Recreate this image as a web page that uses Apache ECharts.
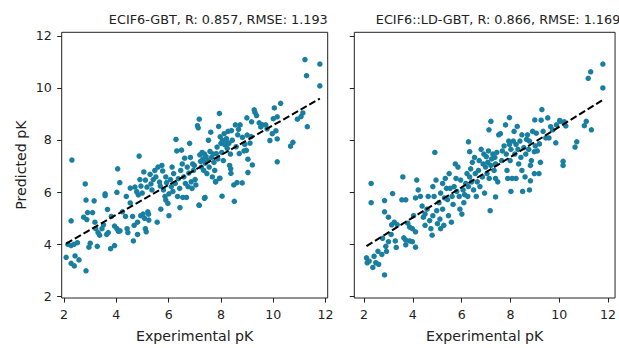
<!DOCTYPE html>
<html><head><meta charset="utf-8">
<script src="https://cdn.jsdelivr.net/npm/echarts@6/dist/echarts.min.js"></script>
<style>html,body{margin:0;padding:0;background:#fff}#c{width:619px;height:348px}</style>
</head><body><div id="c"></div>
<script>
// ---- data ----
const titles = ['ECIF6-GBT, R: 0.857, RMSE: 1.193', 'ECIF6::LD-GBT, R: 0.866, RMSE: 1.169'];
const xAxisName = 'Experimental pK';
const yAxisName = 'Predicted pK';
const xTicks = [2, 4, 6, 8, 10, 12];
const yTicks = [2, 4, 6, 8, 10, 12];

const leftPoints = [
[2.08,3.49],[2.15,3.99],[2.27,3.94],[2.38,3.99],[2.51,4.05],[2.27,3.26],[2.39,3.16],[2.42,3.54],[2.57,3.39],[2.84,2.97],
[2.27,4.89],[2.3,7.23],[2.81,6.31],[2.75,5.03],[2.87,4.94],[2.84,5.69],[2.9,5.21],[2.95,3.88],[3.0,4.03],[3.15,5.66],
[3.09,5.21],[3.18,4.84],[3.21,4.59],[3.27,3.91],[3.36,4.34],[3.3,4.44],[3.51,4.74],[3.57,5.86],[3.57,5.93],[3.66,5.33],
[3.63,4.37],[3.69,4.44],[3.45,4.59],[3.78,3.82],[3.93,3.94],[3.81,5.06],[3.93,4.69],[4.05,6.89],[4.02,5.99],[4.13,6.36],
[4.02,4.59],[4.08,4.49],[4.14,4.51],[4.23,5.24],[4.35,5.06],[4.38,5.83],[4.41,4.59],[4.44,4.44],[4.53,5.58],[4.62,5.06],
[4.65,4.12],[4.68,4.72],[4.53,6.15],[4.71,6.19],[4.78,6.01],[4.84,5.89],[4.81,4.84],[4.87,7.38],[4.9,6.48],[4.94,6.23],
[4.99,5.96],[5.02,5.15],[4.81,4.37],[4.93,5.09],[5.05,6.77],[5.11,6.46],[5.17,6.19],[5.08,4.99],[5.11,4.59],[5.14,4.47],
[5.2,5.24],[5.23,5.15],[5.24,4.92],[5.29,6.68],[5.32,6.31],[5.36,6.08],[5.41,6.48],[5.47,6.83],[5.51,6.58],[5.56,4.84],
[5.59,6.96],[5.65,6.38],[5.68,6.23],[5.7,5.34],[5.74,7.02],[5.77,6.81],[5.8,6.08],[5.86,5.83],[5.89,6.58],[5.89,5.69],
[5.92,6.36],[5.97,5.56],[6.01,5.93],[6.01,5.09],[6.07,6.48],[6.1,6.21],[6.13,6.96],[6.16,6.02],[6.19,6.71],[6.25,6.33],
[6.28,8.02],[6.31,7.58],[6.34,5.83],[6.37,6.51],[6.42,6.14],[6.43,5.4],[6.46,6.83],[6.49,7.61],[6.52,7.08],[6.54,5.79],
[6.58,6.58],[6.61,7.3],[6.64,6.33],[6.68,5.79],[6.71,6.96],[6.74,6.21],[6.77,6.73],[6.8,7.87],[6.83,7.33],[6.86,6.39],
[6.89,6.14],[6.92,7.08],[6.95,6.83],[6.98,7.02],[7.01,6.48],[7.04,6.27],[7.1,8.55],[7.13,8.47],[7.17,8.8],[7.17,5.49],
[7.19,7.43],[7.22,7.18],[7.25,6.96],[7.28,7.52],[7.31,7.27],[7.34,6.83],[7.37,7.46],[7.37,5.76],[7.4,7.11],[7.43,7.36],
[7.46,6.71],[7.49,7.21],[7.52,7.99],[7.55,6.96],[7.58,7.56],[7.61,8.3],[7.64,7.33],[7.67,6.58],[7.7,7.46],[7.73,7.14],
[7.76,6.83],[7.79,6.39],[7.82,7.48],[7.85,7.73],[7.88,7.27],[7.91,8.52],[7.94,9.02],[7.94,6.52],[7.97,8.12],[8.04,5.84],
[8.0,7.87],[8.03,7.52],[8.06,7.99],[8.09,7.21],[8.12,8.24],[8.15,7.81],[8.18,7.99],[8.21,8.05],[8.24,7.68],[8.27,8.33],
[8.3,7.87],[8.33,7.02],[8.36,7.46],[8.4,8.36],[8.43,7.99],[8.51,5.64],[8.49,6.27],[8.55,8.58],[8.58,7.74],[8.61,6.36],
[8.64,8.2],[8.67,8.41],[8.7,7.48],[8.73,8.58],[8.81,6.35],[8.82,8.1],[8.88,7.58],[8.91,7.83],[8.97,7.6],[9.0,8.19],
[8.99,8.85],[9.11,7.88],[9.17,8.7],[9.2,7.04],[9.03,7.26],[9.03,6.75],[9.15,8.13],[9.27,9.16],[9.3,9.06],[9.36,8.94],
[9.46,8.66],[9.52,8.5],[9.58,8.58],[9.71,8.58],[9.76,8.43],[9.87,7.98],[9.96,8.24],[10.0,8.82],[10.04,9.23],[10.1,8.35],
[10.15,8.04],[10.15,8.89],[10.28,9.41],[10.15,7.16],[10.66,7.76],[10.75,7.91],[10.92,8.8],[11.06,8.9],[11.13,9.04],[11.3,8.51],
[11.21,11.09],[11.78,10.92],[11.27,10.47],[11.78,10.08],[7.16,5.5],[7.39,5.79],[8.38,6.72],[8.37,6.89],[7.8,6.4],[7.96,6.53]
];

const rightPoints = [
[11.79,10.92],[11.29,10.62],[11.19,10.37],[11.79,10.0],[11.32,8.39],[11.11,8.72],[11.03,8.55],[10.72,7.93],[10.65,7.73],[10.16,7.18],
[10.16,7.02],[10.27,8.54],[10.02,8.75],[9.86,7.89],[9.58,8.08],[9.65,8.51],[9.53,8.85],[9.29,9.17],[9.26,8.76],[9.0,8.77],
[9.06,8.26],[9.19,7.85],[9.23,7.14],[8.98,7.55],[8.82,7.02],[8.98,6.71],[9.17,6.71],[8.82,6.43],[8.47,6.83],[8.5,6.02],
[8.02,6.02],[7.96,8.86],[7.2,8.72],[7.12,8.39],[7.39,6.52],[7.39,5.81],[7.17,5.28],[6.28,7.93],[6.33,7.55],[4.9,7.52],
[3.59,6.58],[2.29,6.33],[2.29,5.59],[2.84,5.67],[3.17,5.94],[2.84,5.24],[3.0,5.03],[3.13,4.74],[3.24,4.84],[3.36,4.74],
[3.11,4.37],[3.0,4.09],[2.89,3.91],[2.76,4.22],[3.28,4.12],[3.32,3.87],[3.63,4.24],[3.71,3.97],[3.71,4.15],[3.87,4.12],
[3.98,4.09],[4.11,3.88],[3.55,5.7],[3.71,5.7],[3.79,4.8],[3.87,4.65],[3.98,4.59],[4.11,4.47],[4.03,5.09],[4.11,5.77],
[4.16,6.46],[4.22,6.08],[4.31,5.83],[4.38,5.46],[4.43,5.03],[4.5,5.15],[4.5,4.72],[4.58,5.34],[4.63,5.83],[4.69,4.9],
[4.74,4.59],[4.79,4.34],[4.82,5.09],[4.82,6.21],[4.87,5.83],[4.95,6.46],[4.98,5.28],[5.01,4.78],[5.07,5.59],[5.11,4.96],
[5.14,5.96],[5.14,4.59],[5.22,6.33],[5.22,5.34],[5.27,4.72],[5.3,5.77],[5.33,6.52],[5.38,6.14],[5.42,5.71],[5.46,5.09],
[5.49,6.71],[5.53,6.14],[5.58,4.84],[5.61,5.83],[5.65,5.52],[5.69,6.21],[5.74,7.08],[5.77,6.52],[5.8,6.02],[5.85,6.96],
[5.9,5.83],[5.93,5.34],[5.96,6.46],[6.01,5.15],[6.06,6.08],[6.09,5.59],[6.12,5.9],[6.17,6.33],[6.22,6.71],[6.25,5.83],
[6.28,6.21],[6.33,6.58],[6.37,6.89],[6.41,6.39],[6.44,7.14],[6.49,6.08],[6.53,7.33],[6.56,6.71],[6.6,5.83],[6.64,6.39],
[6.69,6.83],[6.72,7.21],[6.75,6.21],[6.8,7.64],[6.85,6.58],[6.88,7.08],[6.91,7.46],[6.94,5.96],[6.98,6.96],[7.01,7.36],
[7.04,6.71],[7.07,7.14],[7.1,7.58],[7.13,6.52],[7.2,7.02],[7.23,7.27],[7.28,7.46],[7.33,6.83],[7.36,7.33],[7.39,7.08],
[7.44,7.52],[7.48,6.39],[7.52,8.2],[7.59,8.24],[7.64,7.21],[7.67,7.58],[7.74,7.77],[7.8,8.58],[7.83,7.46],[7.86,6.83],
[7.89,6.52],[7.93,7.96],[7.96,7.83],[7.99,7.21],[8.02,7.64],[8.07,6.52],[8.12,7.96],[8.15,8.33],[8.18,7.46],[8.23,7.83],
[8.28,8.52],[8.31,7.64],[8.34,7.08],[8.39,7.96],[8.43,7.33],[8.47,8.2],[8.55,7.71],[8.6,6.58],[8.63,7.46],[8.66,8.02],
[8.7,8.2],[8.75,7.64],[8.78,7.96],[8.86,7.21],[8.91,8.33],[9.02,7.77],[9.1,7.58],[9.34,8.33],[9.45,8.08],[9.73,8.39],
[9.89,8.58],[10.05,8.72],[10.21,8.7],[8.78,6.08],[8.23,6.52],[2.1,3.47],[2.21,3.34],[2.36,3.1],[2.48,3.28],[2.6,3.22],
[2.13,3.28],[2.41,3.53],[2.57,3.72],[2.84,2.81],[2.73,3.6],[2.92,3.72]
];

const leftFit = [[2.08, 4.02], [11.78, 9.59]];
const rightFit = [[2.1, 3.92], [11.79, 9.54]];

// ---- chart ----
const FONT = '"DejaVu Sans", sans-serif';
const INK = '#222';
const DOT = '#187fa1';
const chart = echarts.init(document.getElementById('c'), null, {renderer: 'svg'});

const grids = [
  {left: 61.7, top: 32.3, width: 266, height: 272.4},
  {left: 354.3, top: 32.3, width: 266, height: 272.4}
].map(g => Object.assign({show: true, borderColor: INK, borderWidth: 1, backgroundColor: 'transparent', containLabel: false}, g));

const xRanges = [[1.91, 12.08], [1.60, 12.29]];
const xAxes = xRanges.map((r, i) => ({
  type: 'value', gridIndex: i, min: r[0], max: r[1],
  axisLine: {show: false},
  axisTick: {show: true, length: 4.5, customValues: xTicks, lineStyle: {color: INK, width: 1}},
  axisLabel: {customValues: xTicks, fontSize: 12.6, color: INK, fontFamily: FONT, margin: 10},
  splitLine: {show: false},
  name: xAxisName, nameLocation: 'middle', nameGap: 31,
  nameTextStyle: {fontSize: 14.2, color: INK, fontFamily: FONT}
}));
const yAxes = [0, 1].map(i => ({
  type: 'value', gridIndex: i, min: 1.925, max: 12.14,
  axisLine: {show: false},
  axisTick: {show: true, length: 4.5, customValues: yTicks, lineStyle: {color: INK, width: 1}},
  axisLabel: {show: i === 0, customValues: yTicks, fontSize: 12.6, color: INK, fontFamily: FONT, margin: 10},
  splitLine: {show: false},
  name: i === 0 ? yAxisName : '', nameLocation: 'middle', nameGap: 34, nameRotate: 90,
  nameTextStyle: {fontSize: 14.2, color: INK, fontFamily: FONT}
}));

function scatter(idx, pts) {
  return {type: 'scatter', xAxisIndex: idx, yAxisIndex: idx, data: pts, symbol: 'circle', symbolSize: 5.5,
    itemStyle: {color: DOT, opacity: 1}, silent: true, z: 2};
}
function fit(idx, pts) {
  return {type: 'line', xAxisIndex: idx, yAxisIndex: idx, data: pts, showSymbol: false, symbol: 'none',
    lineStyle: {color: '#000', width: 2, type: [7, 3]}, silent: true, z: 3};
}

chart.setOption({
  animation: false,
  backgroundColor: '#fff',
  title: [
    {text: titles[0], left: 327.7, top: 11, textAlign: 'right', padding: 0,
      textStyle: {fontSize: 12.8, fontWeight: 'normal', color: INK, fontFamily: FONT, lineHeight: 16}},
    {text: titles[1], left: 620.3, top: 11, textAlign: 'right', padding: 0,
      textStyle: {fontSize: 12.8, fontWeight: 'normal', color: INK, fontFamily: FONT, lineHeight: 16}}
  ],
  grid: grids,
  xAxis: xAxes,
  yAxis: yAxes,
  series: [scatter(0, leftPoints), fit(0, leftFit), scatter(1, rightPoints), fit(1, rightFit)]
});
</script>
</body></html>
